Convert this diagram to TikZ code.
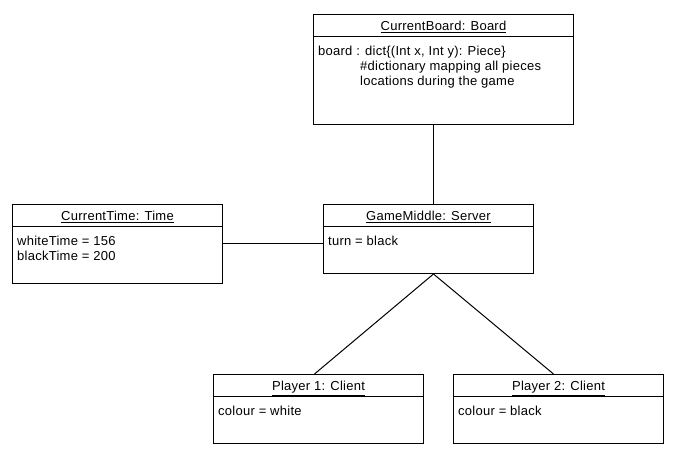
\documentclass[tikz,border=0pt]{standalone}
\usepackage{fontspec}
\setmainfont{Liberation Sans}[LetterSpace=2]
\begin{document}
\begin{tikzpicture}[x=1pt,y=-1pt,
  box/.style={draw, line width=1pt, anchor=north west, inner sep=0pt, fill=white},
  hdr/.style={font=\fontsize{13}{15}\selectfont, anchor=base, inner sep=0pt},
  attr/.style={font=\fontsize{13}{15}\selectfont, anchor=north west, align=left, inner sep=0pt},
  link/.style={line width=1pt}]
\useasboundingbox[fill=white] (0,0) rectangle (697,470);

% boxes
\node[box, minimum width=260pt, minimum height=110pt] (board) at (313,14) {};
\node[box, minimum width=210pt, minimum height=79pt] (time) at (12,204) {};
\node[box, minimum width=210pt, minimum height=69pt] (server) at (323,204) {};
\node[box, minimum width=210pt, minimum height=69pt] (p1) at (213,374) {};
\node[box, minimum width=210pt, minimum height=69pt] (p2) at (453,374) {};

% header dividers
\foreach \b in {board,time,server,p1,p2}{
  \draw[link] ([yshift=-23pt]\b.north west) -- ([yshift=-23pt]\b.north east);
}

% titles
\node[hdr] (boardT) at ([yshift=-17pt]board.north) {\underline{CurrentBoard: Board}};
\node[hdr] (timeT) at ([yshift=-17pt]time.north) {\underline{CurrentTime: Time}};
\node[hdr] (serverT) at ([yshift=-17pt]server.north) {\underline{GameMiddle: Server}};
\node[hdr] (p1T) at ([yshift=-17pt]p1.north) {\underline{Player 1: Client}};
\node[hdr] (p2T) at ([yshift=-17pt]p2.north) {\underline{Player 2: Client}};

% attributes (first line baseline 41pt below box top)
\node[attr] (boardA) at ([xshift=5pt,yshift=-30pt]board.north west)
  {\rule{0pt}{11pt}board : dict\{(Int x, Int y): Piece\}\\
   \hspace*{42pt}\#dictionary mapping all pieces\\
   \hspace*{42pt}locations during the game};
\node[attr] (timeA) at ([xshift=5pt,yshift=-30pt]time.north west)
  {\rule{0pt}{11pt}whiteTime = 156\\ blackTime = 200};
\node[attr] (serverA) at ([xshift=5pt,yshift=-30pt]server.north west)
  {\rule{0pt}{11pt}turn = black};
\node[attr] (p1A) at ([xshift=5pt,yshift=-30pt]p1.north west)
  {\rule{0pt}{11pt}colour = white};
\node[attr] (p2A) at ([xshift=5pt,yshift=-30pt]p2.north west)
  {\rule{0pt}{11pt}colour = black};

% connectors
\coordinate (hub) at ([xshift=5pt]server.south);
\draw[link] (board.south -| hub) -- (server.north -| hub);
\draw[link] (time.east) -- (time.east -| server.west);
\draw[link] (hub) -- ([xshift=-4pt]p1.north);
\draw[link] (hub) -- ([xshift=-5pt]p2.north);
\end{tikzpicture}
\end{document}
